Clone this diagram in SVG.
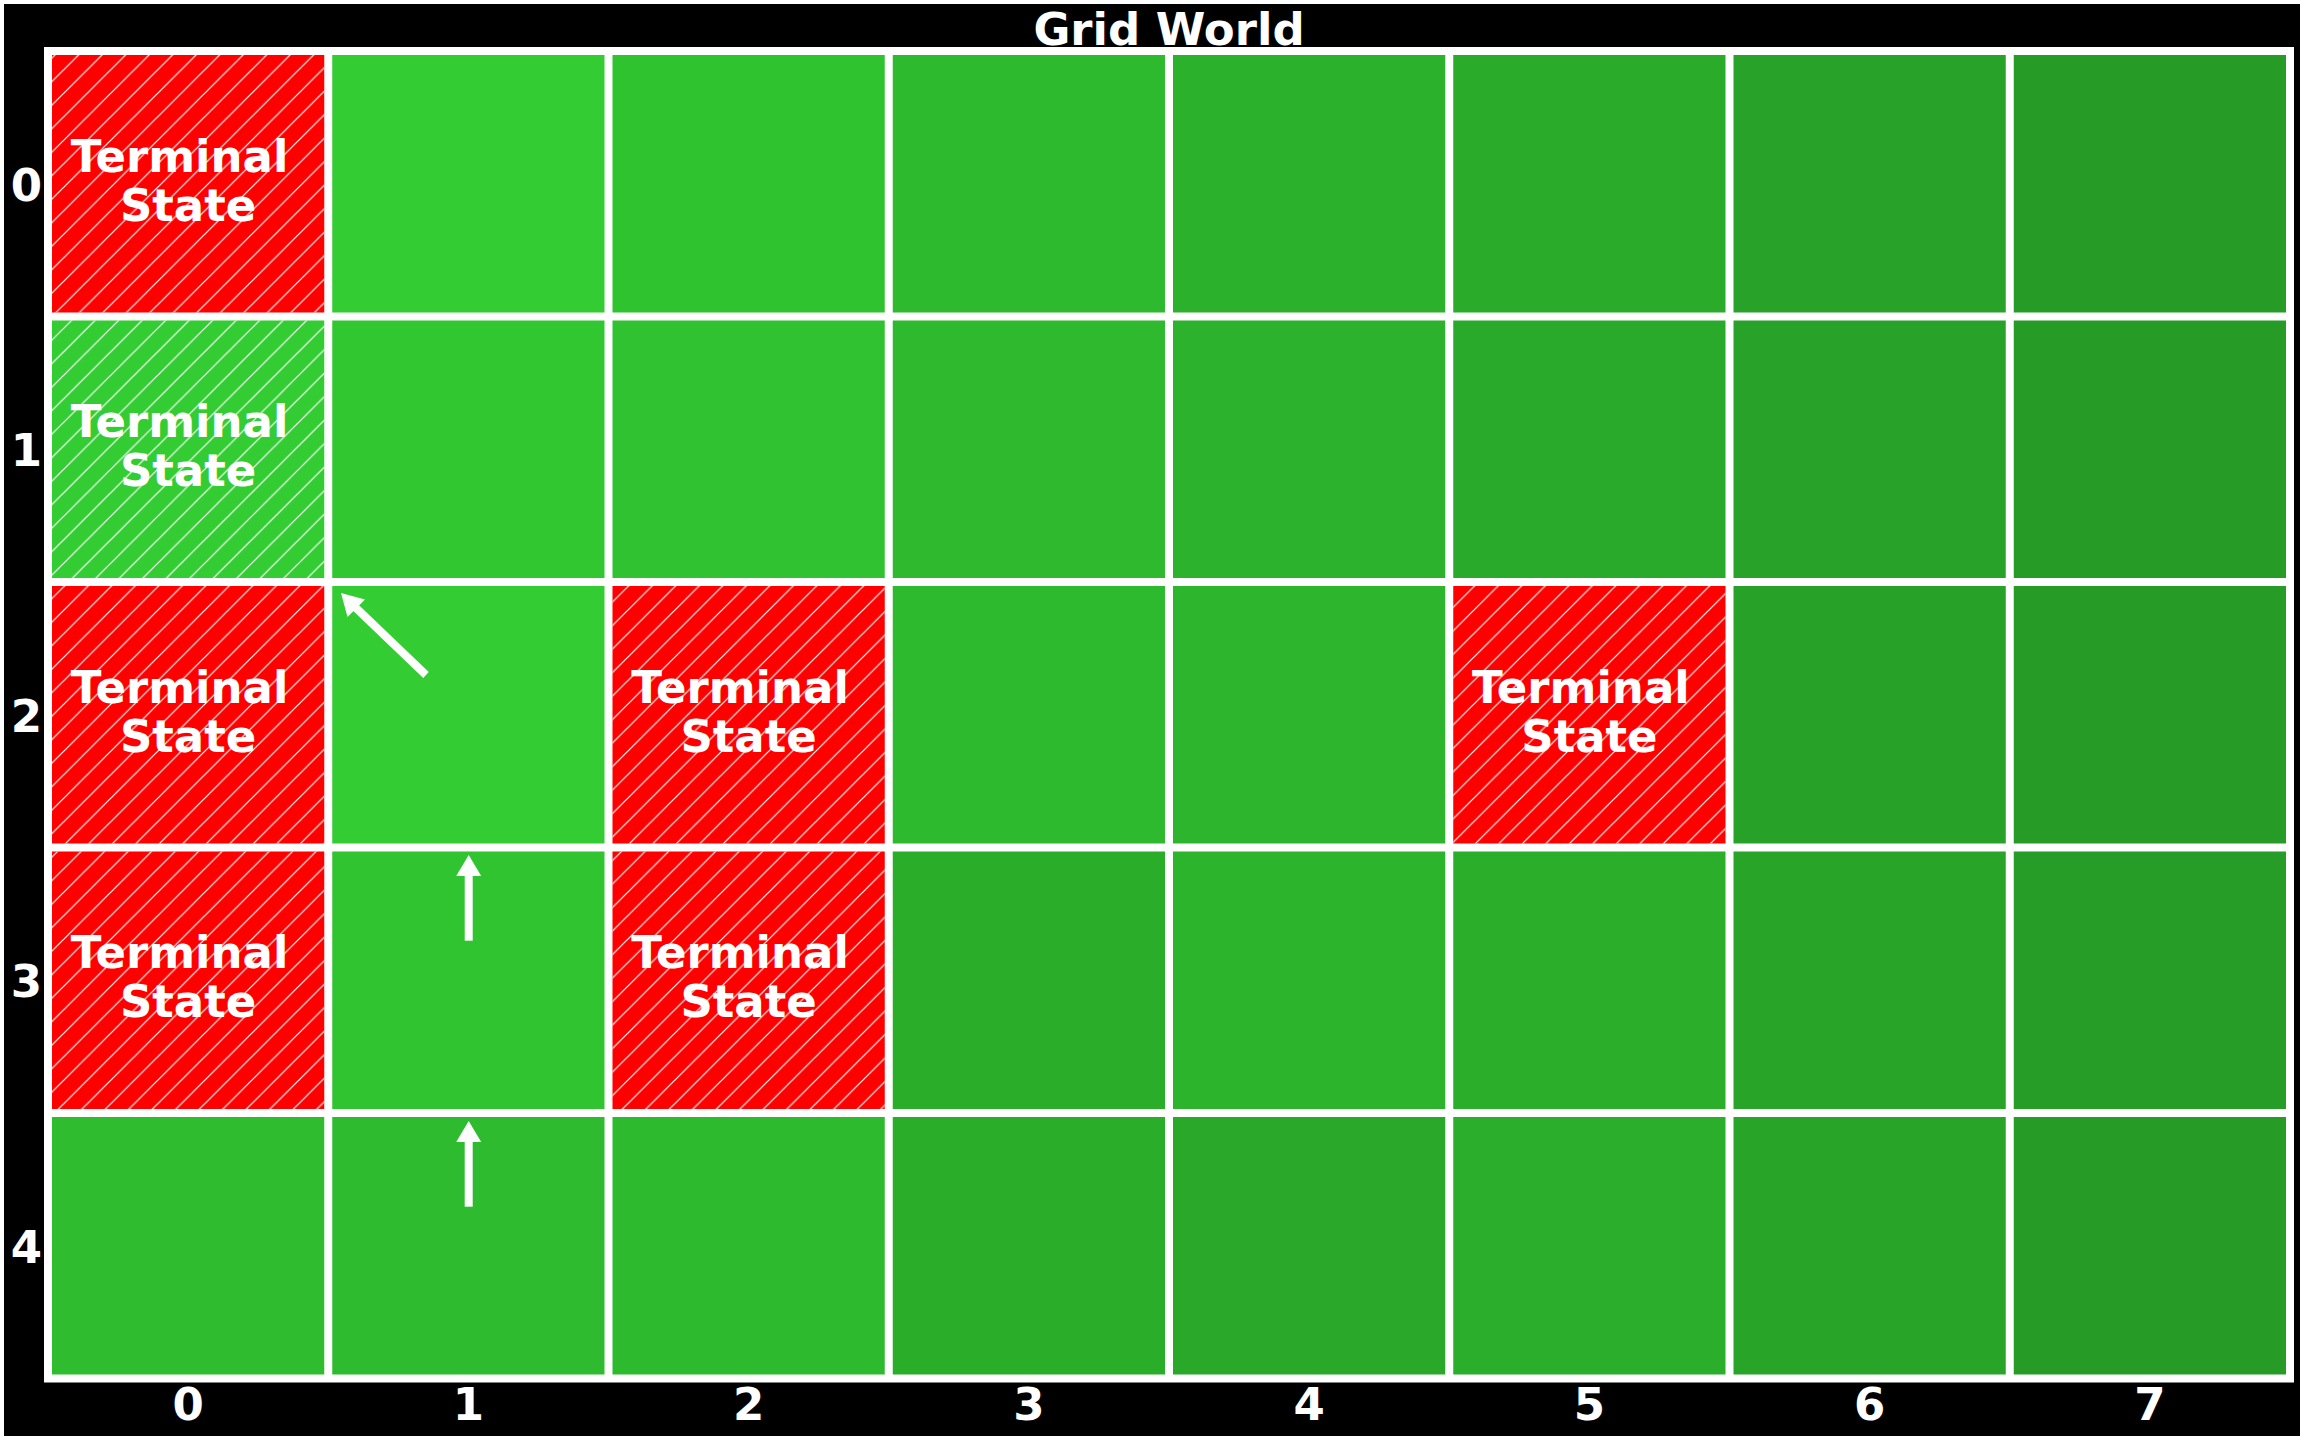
<svg xmlns="http://www.w3.org/2000/svg" width="2304" height="1440" viewBox="0 0 2304 1440">
<style>
text{font-family:"DejaVu Sans","Liberation Sans",sans-serif;font-weight:bold;fill:#ffffff}
.lbl{font-size:45px;text-anchor:middle}
.ts{font-size:45px;text-anchor:middle}
.title{font-size:45px;text-anchor:middle}
.red{fill:#ff0000}
.arrow{fill:#ffffff}
.shaft{stroke:#ffffff;stroke-width:8;fill:none}
</style>
<defs>
<pattern id="hatch" patternUnits="userSpaceOnUse" x="16" y="0" width="23.5" height="23.5">
<path d="M0,23.5 L23.5,0 M-2,2 L2,-2 M21.5,25.5 L25.5,21.5" stroke="#ffffff" stroke-width="1.2"/>
</pattern>
</defs>
<rect x="0" y="0" width="2304" height="1440" fill="#ffffff"/>
<rect x="4" y="4" width="2296" height="1432" fill="#000000"/>
<text class="title" x="1169" y="45">Grid World</text>
<rect x="44" y="47" width="2250" height="1335.5" fill="#ffffff"/>

<g id="row0">
<g id="cell-0-0"><rect class="red" x="52" y="55" width="272.25" height="257.5"/><rect x="52" y="55" width="272.25" height="257.5" fill="url(#hatch)"/><text class="ts" x="179.6" y="171.75">Terminal</text><text class="ts" x="188.1" y="220.75">State</text></g>
<g id="cell-0-1"><rect x="332.25" y="55" width="272.25" height="257.5" fill="#33cc33"/></g>
<g id="cell-0-2"><rect x="612.5" y="55" width="272.25" height="257.5" fill="#30c330"/></g>
<g id="cell-0-3"><rect x="892.75" y="55" width="272.25" height="257.5" fill="#2eba2e"/></g>
<g id="cell-0-4"><rect x="1173" y="55" width="272.25" height="257.5" fill="#2bb12b"/></g>
<g id="cell-0-5"><rect x="1453.25" y="55" width="272.25" height="257.5" fill="#2aab2a"/></g>
<g id="cell-0-6"><rect x="1733.5" y="55" width="272.25" height="257.5" fill="#28a228"/></g>
<g id="cell-0-7"><rect x="2013.75" y="55" width="272.25" height="257.5" fill="#269b26"/></g>
</g>

<g id="row1">
<g id="cell-1-0"><rect x="52" y="320.5" width="272.25" height="257.5" fill="#33cc33"/><rect x="52" y="320.5" width="272.25" height="257.5" fill="url(#hatch)"/><text class="ts" x="179.6" y="437.25">Terminal</text><text class="ts" x="188.1" y="486.25">State</text></g>
<g id="cell-1-1"><rect x="332.25" y="320.5" width="272.25" height="257.5" fill="#31c731"/></g>
<g id="cell-1-2"><rect x="612.5" y="320.5" width="272.25" height="257.5" fill="#30c230"/></g>
<g id="cell-1-3"><rect x="892.75" y="320.5" width="272.25" height="257.5" fill="#2eb92e"/></g>
<g id="cell-1-4"><rect x="1173" y="320.5" width="272.25" height="257.5" fill="#2cb22c"/></g>
<g id="cell-1-5"><rect x="1453.25" y="320.5" width="272.25" height="257.5" fill="#2aaa2a"/></g>
<g id="cell-1-6"><rect x="1733.5" y="320.5" width="272.25" height="257.5" fill="#28a228"/></g>
<g id="cell-1-7"><rect x="2013.75" y="320.5" width="272.25" height="257.5" fill="#269c26"/></g>
</g>

<g id="row2">
<g id="cell-2-0"><rect class="red" x="52" y="586" width="272.25" height="257.5"/><rect x="52" y="586" width="272.25" height="257.5" fill="url(#hatch)"/><text class="ts" x="179.6" y="702.75">Terminal</text><text class="ts" x="188.1" y="751.75">State</text></g>
<g id="cell-2-1"><rect x="332.25" y="586" width="272.25" height="257.5" fill="#33cc33"/></g>
<g id="cell-2-2"><rect class="red" x="612.5" y="586" width="272.25" height="257.5"/><rect x="612.5" y="586" width="272.25" height="257.5" fill="url(#hatch)"/><text class="ts" x="740.1" y="702.75">Terminal</text><text class="ts" x="748.6" y="751.75">State</text></g>
<g id="cell-2-3"><rect x="892.75" y="586" width="272.25" height="257.5" fill="#2eba2e"/></g>
<g id="cell-2-4"><rect x="1173" y="586" width="272.25" height="257.5" fill="#2db62d"/></g>
<g id="cell-2-5"><rect class="red" x="1453.25" y="586" width="272.25" height="257.5"/><rect x="1453.25" y="586" width="272.25" height="257.5" fill="url(#hatch)"/><text class="ts" x="1580.9" y="702.75">Terminal</text><text class="ts" x="1589.4" y="751.75">State</text></g>
<g id="cell-2-6"><rect x="1733.5" y="586" width="272.25" height="257.5" fill="#28a128"/></g>
<g id="cell-2-7"><rect x="2013.75" y="586" width="272.25" height="257.5" fill="#269c26"/></g>
</g>

<g id="row3">
<g id="cell-3-0"><rect class="red" x="52" y="851.5" width="272.25" height="257.5"/><rect x="52" y="851.5" width="272.25" height="257.5" fill="url(#hatch)"/><text class="ts" x="179.6" y="968.25">Terminal</text><text class="ts" x="188.1" y="1017.25">State</text></g>
<g id="cell-3-1"><rect x="332.25" y="851.5" width="272.25" height="257.5" fill="#31c431"/></g>
<g id="cell-3-2"><rect class="red" x="612.5" y="851.5" width="272.25" height="257.5"/><rect x="612.5" y="851.5" width="272.25" height="257.5" fill="url(#hatch)"/><text class="ts" x="740.1" y="968.25">Terminal</text><text class="ts" x="748.6" y="1017.25">State</text></g>
<g id="cell-3-3"><rect x="892.75" y="851.5" width="272.25" height="257.5" fill="#2aae2a"/></g>
<g id="cell-3-4"><rect x="1173" y="851.5" width="272.25" height="257.5" fill="#2cb42c"/></g>
<g id="cell-3-5"><rect x="1453.25" y="851.5" width="272.25" height="257.5" fill="#2baf2b"/></g>
<g id="cell-3-6"><rect x="1733.5" y="851.5" width="272.25" height="257.5" fill="#28a528"/></g>
<g id="cell-3-7"><rect x="2013.75" y="851.5" width="272.25" height="257.5" fill="#269d26"/></g>
</g>

<g id="row4">
<g id="cell-4-0"><rect x="52" y="1117" width="272.25" height="257.5" fill="#2fbc2f"/></g>
<g id="cell-4-1"><rect x="332.25" y="1117" width="272.25" height="257.5" fill="#2fbb2f"/></g>
<g id="cell-4-2"><rect x="612.5" y="1117" width="272.25" height="257.5" fill="#2eba2e"/></g>
<g id="cell-4-3"><rect x="892.75" y="1117" width="272.25" height="257.5" fill="#2aae2a"/></g>
<g id="cell-4-4"><rect x="1173" y="1117" width="272.25" height="257.5" fill="#29a829"/></g>
<g id="cell-4-5"><rect x="1453.25" y="1117" width="272.25" height="257.5" fill="#2bae2b"/></g>
<g id="cell-4-6"><rect x="1733.5" y="1117" width="272.25" height="257.5" fill="#28a428"/></g>
<g id="cell-4-7"><rect x="2013.75" y="1117" width="272.25" height="257.5" fill="#269c26"/></g>
</g>

<g id="connectors">
<g id="arrow-2-1"><line class="shaft" x1="426" y1="675" x2="355" y2="607"/><polygon class="arrow" points="341,593 365,599.5 347.5,617"/></g>
<g id="arrow-3-1"><line class="shaft" x1="468.7" y1="940.7" x2="468.7" y2="875"/><polygon class="arrow" points="468.7,855 481.2,876 456.2,876"/></g>
<g id="arrow-4-1"><line class="shaft" x1="468.7" y1="1206.7" x2="468.7" y2="1141"/><polygon class="arrow" points="468.7,1121 481.2,1142 456.2,1142"/></g>
</g>

<g id="yticks">
<text class="lbl" x="26.5" y="200.75">0</text>
<text class="lbl" x="26.5" y="466.25">1</text>
<text class="lbl" x="26.5" y="731.75">2</text>
<text class="lbl" x="26.5" y="997.25">3</text>
<text class="lbl" x="26.5" y="1262.75">4</text>
</g>
<g id="xticks">
<text class="lbl" x="188.1" y="1420">0</text>
<text class="lbl" x="468.4" y="1420">1</text>
<text class="lbl" x="748.6" y="1420">2</text>
<text class="lbl" x="1028.9" y="1420">3</text>
<text class="lbl" x="1309.1" y="1420">4</text>
<text class="lbl" x="1589.4" y="1420">5</text>
<text class="lbl" x="1869.6" y="1420">6</text>
<text class="lbl" x="2149.9" y="1420">7</text>
</g>
</svg>
